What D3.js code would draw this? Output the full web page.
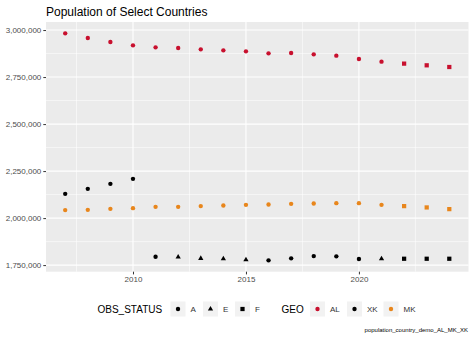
<!DOCTYPE html>
<html>
<head>
<meta charset="utf-8">
<script src="https://cdn.jsdelivr.net/npm/d3@7"></script>
<style>
  html, body { margin: 0; padding: 0; background: #fff; }
  svg { display: block; font-family: "Liberation Sans", Arial, sans-serif; }
</style>
</head>
<body>
<svg id="chart" width="474" height="338"></svg>
<script>
// Population by year for each country, with observation status per value
const years = [2007, 2008, 2009, 2010, 2011, 2012, 2013, 2014, 2015, 2016, 2017, 2018, 2019, 2020, 2021, 2022, 2023, 2024];
const geoCodes = ["AL", "XK", "MK"];
const statusCodes = ["A", "E", "F"];

const popAL = [2982500, 2957500, 2936300, 2918700, 2908100, 2904400, 2897500, 2892200, 2886900, 2876300, 2878000, 2870900, 2864000, 2846000, 2832000, 2821500, 2812500, 2803500];
const statusAL = ["A", "A", "A", "A", "A", "A", "A", "A", "A", "A", "A", "A", "A", "A", "A", "F", "F", "F"];

const popXK = [2129000, 2155500, 2182100, 2208700, 1794400, 1792800, 1785900, 1783800, 1778500, 1775300, 1785900, 1798100, 1796500, 1782200, 1783800, 1783800, 1783800, 1783800];
const statusXK = ["A", "A", "A", "A", "A", "E", "E", "E", "E", "A", "A", "A", "A", "A", "E", "F", "F", "F"];

const popMK = [2042400, 2044000, 2049300, 2053000, 2060000, 2060000, 2063700, 2067300, 2070600, 2072300, 2075900, 2077800, 2079600, 2079600, 2070600, 2063700, 2056700, 2047700];
const statusMK = ["A", "A", "A", "A", "A", "A", "A", "A", "A", "A", "A", "A", "A", "A", "A", "F", "F", "F"];

const yTicks = [1750000, 2000000, 2250000, 2500000, 2750000, 3000000];
const xTicks = [2010, 2015, 2020];

const titleText = "Population of Select Countries";
const captionText = "population_country_demo_AL_MK_XK";

const geoColor = { AL: "#C8102E", XK: "#000000", MK: "#E8861C" };

// Long-format rows built from the arrays above
const seriesPop = { AL: popAL, XK: popXK, MK: popMK };
const seriesStatus = { AL: statusAL, XK: statusXK, MK: statusMK };
const rows = [];
geoCodes.forEach(g => {
  years.forEach((yr, i) => rows.push({ geo: g, year: yr, value: seriesPop[g][i], status: seriesStatus[g][i] }));
});

const svg = d3.select("#chart");
const panel = { left: 46, right: 468.5, top: 22, bottom: 271.7 };

// Continuous scales with 5% padding on each side of the data range
function padded(ext) {
  const pad = (ext[1] - ext[0]) * 0.05;
  return [ext[0] - pad, ext[1] + pad];
}
const x = d3.scaleLinear().domain(padded(d3.extent(years))).range([panel.left, panel.right]);
const y = d3.scaleLinear().domain(padded(d3.extent(rows, d => d.value))).range([panel.bottom, panel.top]);

// Panel background
svg.append("rect")
  .attr("x", panel.left).attr("y", panel.top)
  .attr("width", panel.right - panel.left).attr("height", panel.bottom - panel.top)
  .attr("fill", "#EBEBEB");

// Minor grid lines halfway between major breaks
const xMinor = xTicks.slice(0, -1).map((t, i) => (t + xTicks[i + 1]) / 2);
xMinor.unshift(xTicks[0] - 2.5);
xMinor.push(xTicks[xTicks.length - 1] + 2.5);
const yMinor = yTicks.slice(0, -1).map((t, i) => (t + yTicks[i + 1]) / 2);
const grid = svg.append("g");
grid.selectAll(".xminor").data(xMinor.filter(v => v >= x.domain()[0] && v <= x.domain()[1])).enter()
  .append("line")
  .attr("x1", d => x(d)).attr("x2", d => x(d))
  .attr("y1", panel.top).attr("y2", panel.bottom)
  .attr("stroke", "#fff").attr("stroke-width", 0.55);
grid.selectAll(".yminor").data(yMinor).enter()
  .append("line")
  .attr("y1", d => y(d)).attr("y2", d => y(d))
  .attr("x1", panel.left).attr("x2", panel.right)
  .attr("stroke", "#fff").attr("stroke-width", 0.55);
grid.selectAll(".xmajor").data(xTicks).enter()
  .append("line")
  .attr("x1", d => x(d)).attr("x2", d => x(d))
  .attr("y1", panel.top).attr("y2", panel.bottom)
  .attr("stroke", "#fff").attr("stroke-width", 1.1);
grid.selectAll(".ymajor").data(yTicks).enter()
  .append("line")
  .attr("y1", d => y(d)).attr("y2", d => y(d))
  .attr("x1", panel.left).attr("x2", panel.right)
  .attr("stroke", "#fff").attr("stroke-width", 1.1);

// Axes
const fmt = d3.format(",");
const yAxis = svg.append("g")
  .attr("transform", `translate(${panel.left},0)`)
  .call(d3.axisLeft(y).tickValues(yTicks).tickFormat(fmt).tickSize(2.7).tickPadding(2));
const xAxis = svg.append("g")
  .attr("transform", `translate(0,${panel.bottom})`)
  .call(d3.axisBottom(x).tickValues(xTicks).tickFormat(d3.format("d")).tickSize(2.7).tickPadding(2));
[yAxis, xAxis].forEach(ax => {
  ax.select(".domain").remove();
  ax.selectAll(".tick line").attr("stroke", "#333333").attr("stroke-width", 1);
  ax.selectAll(".tick text")
    .attr("fill", "#4D4D4D")
    .style("font-size", "8px")
    .style("font-family", "'Liberation Sans', Arial, sans-serif");
});

// Point shapes per observation status
const shapeSize = { A: 15, E: 12, F: 18 };
const shapeType = { A: d3.symbolCircle, E: d3.symbolTriangle, F: d3.symbolSquare };
function symbolPath(status) {
  return d3.symbol().type(shapeType[status]).size(shapeSize[status])();
}

svg.append("g").selectAll("path").data(rows).enter()
  .append("path")
  .attr("transform", d => `translate(${x(d.year)},${y(d.value)})`)
  .attr("d", d => symbolPath(d.status))
  .attr("fill", d => geoColor[d.geo]);

// Title and caption
svg.append("text")
  .attr("x", panel.left).attr("y", 15.5)
  .attr("fill", "#000")
  .style("font-size", "12px")
  .text(titleText);

svg.append("text")
  .attr("x", 468).attr("y", 332)
  .attr("text-anchor", "end")
  .attr("fill", "#000")
  .style("font-size", "6px")
  .text(captionText);

// Legends laid out in one row under the panel
const legendY = 309;
const keyBox = 15;
const legend = svg.append("g");

function drawLegend(title, titleX, items) {
  legend.append("text")
    .attr("x", titleX).attr("y", legendY + 3.6)
    .attr("fill", "#000")
    .style("font-size", "10px")
    .text(title);
  items.forEach(it => {
    legend.append("rect")
      .attr("x", it.kx).attr("y", legendY - keyBox / 2)
      .attr("width", keyBox).attr("height", keyBox)
      .attr("fill", "#F2F2F2");
    legend.append("path")
      .attr("transform", `translate(${it.kx + keyBox / 2},${legendY})`)
      .attr("d", symbolPath(it.status))
      .attr("fill", it.color);
    legend.append("text")
      .attr("x", it.kx + keyBox + 5).attr("y", legendY + 2.9)
      .attr("fill", "#333")
      .style("font-size", "8px")
      .text(it.label);
  });
}

const statusKeyX = [170.5, 203, 235];
drawLegend("OBS_STATUS", 97.5, statusCodes.map((s, i) => ({ kx: statusKeyX[i], status: s, color: "#000", label: s })));
const geoKeyX = [310, 347, 383.5];
drawLegend("GEO", 281.5, geoCodes.map((g, i) => ({ kx: geoKeyX[i], status: "A", color: geoColor[g], label: g })));
</script>
</body>
</html>
